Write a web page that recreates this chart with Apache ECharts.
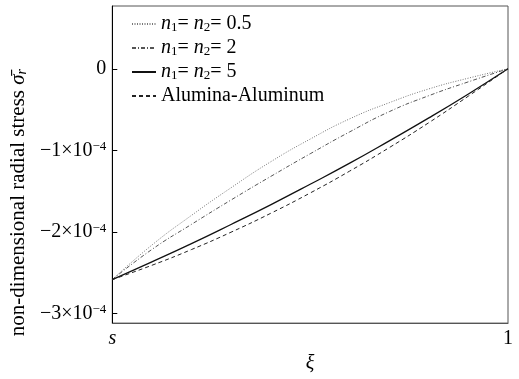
<!DOCTYPE html>
<html>
<head>
    <meta charset="utf-8">
    <title>radial stress</title>
    <script src="https://cdn.jsdelivr.net/npm/echarts@6/dist/echarts.min.js"></script>
    <style>
        html, body { margin: 0; padding: 0; background: #fff; }
        #main { width: 519px; height: 379px; }
    </style>
</head>
<body>
    <div id="main"></div>
    <script>
        // xi normalised from s (0) to 1 (1); stress values in units of 1e-4
        var xi = [0, 0.1, 0.2, 0.3, 0.4, 0.5, 0.6, 0.7, 0.8, 0.9, 1];
        var stressN05 = [-2.586, -2.163, -1.799, -1.460, -1.142, -0.863, -0.614, -0.416, -0.247, -0.115, 0];
        var stressN2 = [-2.586, -2.217, -1.909, -1.610, -1.322, -1.043, -0.774, -0.526, -0.330, -0.160, 0];
        var stressN5 = [-2.586, -2.369, -2.145, -1.910, -1.669, -1.417, -1.158, -0.884, -0.603, -0.309, 0];
        var stressAlAl = [-2.586, -2.411, -2.218, -2.005, -1.774, -1.524, -1.255, -0.967, -0.661, -0.335, 0];
        var yTicks = [-3, -2, -1, 0];
        var xTickLabels = ['s', '1'];

        var seriesNames = ['n05', 'n2', 'n5', 'alal'];
        var legendLabels = {
            n05: '{i|n}{sub|1}= {i|n}{sub|2}= 0.5',
            n2: '{i|n}{sub|1}= {i|n}{sub|2}= 2',
            n5: '{i|n}{sub|1}= {i|n}{sub|2}= 5',
            alal: 'Alumina-Aluminum'
        };

        function pairs(ys) {
            return xi.map(function (x, i) { return [x, ys[i]]; });
        }

        var serif = 'Liberation Serif';
        var myChart = echarts.init(document.getElementById('main'));

        var option = {
            animation: false,
            grid: {
                left: 107, right: 11, top: 6, bottom: 44,
                show: true, borderColor: '#555', borderWidth: 1
            },
            legend: {
                orient: 'vertical',
                left: 126,
                top: 9,
                itemWidth: 24,
                itemHeight: 12,
                itemGap: 4,
                data: seriesNames,
                itemStyle: { opacity: 0 },
                formatter: function (name) { return legendLabels[name]; },
                textStyle: {
                    fontFamily: serif, fontSize: 20, color: '#000', lineHeight: 20,
                    rich: {
                        i: { fontFamily: serif, fontStyle: 'italic', fontSize: 20, lineHeight: 20 },
                        sub: { fontFamily: serif, fontSize: 13, lineHeight: 8, verticalAlign: 'bottom' }
                    }
                }
            },
            xAxis: {
                type: 'value',
                min: 0,
                max: 1,
                interval: 1,
                name: 'ξ',
                nameLocation: 'middle',
                nameGap: 22,
                nameTextStyle: { fontFamily: serif, fontStyle: 'italic', fontSize: 20, color: '#000' },
                splitLine: { show: false },
                axisLine: { onZero: false, lineStyle: { color: '#555', width: 1 } },
                axisTick: { show: false },
                axisLabel: {
                    margin: 6,
                    fontFamily: serif, fontSize: 20, color: '#000',
                    formatter: function (v) { return v === 0 ? '{i|' + xTickLabels[0] + '}' : xTickLabels[1]; },
                    rich: { i: { fontFamily: serif, fontStyle: 'italic', fontSize: 20 } }
                }
            },
            yAxis: {
                type: 'value',
                min: -3.12,
                max: 0.77,
                name: 'non-dimensional radial stress {s|σ̄}{sub|r}',
                nameLocation: 'middle',
                nameGap: 72,
                nameTextStyle: {
                    fontFamily: serif, fontSize: 21, color: '#000', padding: [0, 76, 0, 0],
                    rich: {
                        s: { fontFamily: serif, fontStyle: 'italic', fontSize: 21 },
                        sub: { fontFamily: serif, fontStyle: 'italic', fontSize: 14, lineHeight: 8, verticalAlign: 'bottom' }
                    }
                },
                splitLine: { show: false },
                axisLine: { show: true, onZero: false, lineStyle: { color: '#000', width: 1 } },
                axisTick: { show: true, inside: true, length: 5, customValues: yTicks, lineStyle: { color: '#000' } },
                axisLabel: {
                    customValues: yTicks,
                    margin: 6,
                    fontFamily: serif, fontSize: 20, color: '#000', lineHeight: 20,
                    formatter: function (v) {
                        if (Math.abs(v) < 1e-9) return '0';
                        return '\u2212' + Math.round(-v) + '\u00d710{sup|\u22124}';
                    },
                    rich: {
                        sup: { fontFamily: serif, fontSize: 13, lineHeight: 10, verticalAlign: 'top' }
                    }
                }
            },
            series: [
                {
                    name: 'n05', type: 'line', smooth: true, symbol: 'none',
                    lineStyle: { color: '#777', width: 1, type: [1, 1.5] },
                    data: pairs(stressN05)
                },
                {
                    name: 'n2', type: 'line', smooth: true, symbol: 'none',
                    lineStyle: { color: '#555', width: 1, type: [4, 2, 1, 2] },
                    data: pairs(stressN2)
                },
                {
                    name: 'n5', type: 'line', smooth: true, symbol: 'none',
                    lineStyle: { color: '#111', width: 1.3, type: 'solid' },
                    data: pairs(stressN5)
                },
                {
                    name: 'alal', type: 'line', smooth: true, symbol: 'none',
                    lineStyle: { color: '#222', width: 1, type: [4, 3] },
                    data: pairs(stressAlAl)
                }
            ]
        };

        myChart.setOption(option);
    </script>
</body>
</html>
